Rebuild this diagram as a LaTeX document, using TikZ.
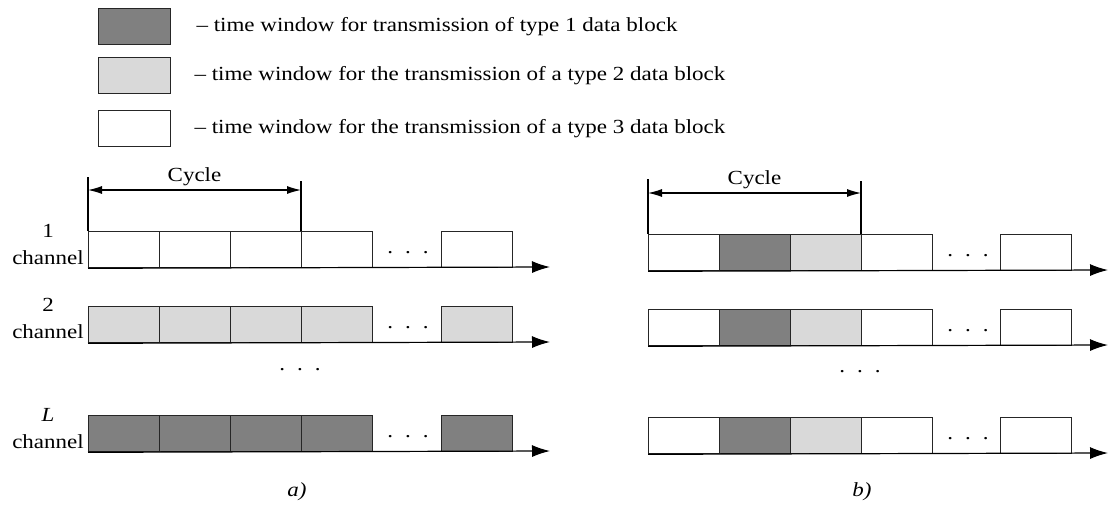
\documentclass[tikz,border=0pt]{standalone}
\usepackage{fontspec}
\setmainfont{Liberation Serif}[FakeStretch=1.15]
\usetikzlibrary{arrows.meta, positioning}
\colorlet{typeone}{black!50}
\colorlet{typetwo}{black!15}
\colorlet{typethree}{white}
\tikzstyle{slot} = [rectangle, draw=black!85, line width=1.3pt, minimum width=71pt, minimum height=36pt, inner sep=0pt, anchor=north west]
\tikzstyle{blank} = [rectangle, inner sep=0pt]
\tikzstyle{arrow} = [-{Latex[length=18pt,width=12pt]}, line width=1.2pt]
\tikzstyle{cycarrow} = [{Latex[length=14pt,width=8pt]}-{Latex[length=14pt,width=8pt]}, line width=1.1pt]
\tikzstyle{chlabel} = [blank, align=center, anchor=east, font=\fontsize{20}{27}\selectfont]
\newcommand{\dotrow}{.\hspace{12pt}.\hspace{12pt}.}

\begin{document}
\begin{tikzpicture}[x=1pt, y=-1pt, every node/.style={font=\fontsize{20}{24}\selectfont}]
        \useasboundingbox (0,0) rectangle (1108,506);

        % legend
        \node[slot, minimum width=72pt, fill=typeone] (key1) at (98,8) {};
        \node[slot, minimum width=72pt, fill=typetwo] (key2) at (98,57) {};
        \node[slot, minimum width=72pt, fill=typethree] (key3) at (98,110) {};
        \node[blank, right=25pt of key1] (key1t) {-- time window for transmission of type 1 data block};
        \node[blank, right=23pt of key2] (key2t) {-- time window for the transmission of a type 2 data block};
        \node[blank, right=23pt of key3] (key3t) {-- time window for the transmission of a type 3 data block};

        % a) one type of block per channel
        \foreach \r/\y/\f in {1/231/typethree, 2/306/typetwo, 3/415/typeone}
        {
            \foreach \i in {1,...,4}
            {\node[slot, fill=\f] (a\r-\i) at ({88+71*(\i-1)},\y) {};}
            \node[slot, fill=\f] (a\r-5) at (441,\y) {};
            \node[blank] (a\r-dots) at (408,{\y+22}) {\dotrow};
            \coordinate (a\r-end) at (550,{\y+36});
            \draw[arrow] (a\r-1.south west) -- (a\r-end);
        }
        \node[chlabel] (a1-lab) at (84,244) {1\\channel};
        \node[chlabel] (a2-lab) at (84,318) {2\\channel};
        \node[chlabel] (a3-lab) at (84,429) {\textit{L}\\channel};

        \coordinate (ca-l) at (88,177);
        \coordinate (ca-r) at (301,181);
        \coordinate (cya-l) at (88,190);
        \coordinate (cya-r) at (301,190);
        \draw[line width=1.1pt] (ca-l) -- (a1-1.north west);
        \draw[line width=1.1pt] (ca-r) -- (a1-4.north west);
        \draw[cycarrow] (cya-l) -- node[above=0pt] (ca-lab) {Cycle} (cya-r);

        \node[blank] (a-vdots) at (300,370) {\dotrow};
        \node[blank] (a-cap) at (297,492) {\textit{a)}};

        % b) all types of block in every channel
        \foreach \r/\y in {1/234, 2/309, 3/417}
        {
            \node[slot, fill=typethree] (b\r-1) at (648,\y) {};
            \node[slot, fill=typeone] (b\r-2) at (719,\y) {};
            \node[slot, fill=typetwo] (b\r-3) at (790,\y) {};
            \node[slot, fill=typethree] (b\r-4) at (861,\y) {};
            \node[slot, fill=typethree] (b\r-5) at (1000,\y) {};
            \node[blank] (b\r-dots) at (968,{\y+22}) {\dotrow};
            \coordinate (b\r-end) at (1108,{\y+36});
            \draw[arrow] (b\r-1.south west) -- (b\r-end);
        }

        \coordinate (cb-l) at (648,179);
        \coordinate (cb-r) at (861,181);
        \coordinate (cyb-l) at (648,193);
        \coordinate (cyb-r) at (861,193);
        \draw[line width=1.1pt] (cb-l) -- (b1-1.north west);
        \draw[line width=1.1pt] (cb-r) -- (b1-4.north west);
        \draw[cycarrow] (cyb-l) -- node[above=0pt] (cb-lab) {Cycle} (cyb-r);

        \node[blank] (b-vdots) at (860,372) {\dotrow};
        \node[blank] (b-cap) at (862,492) {\textit{b)}};
\end{tikzpicture}
\end{document}
